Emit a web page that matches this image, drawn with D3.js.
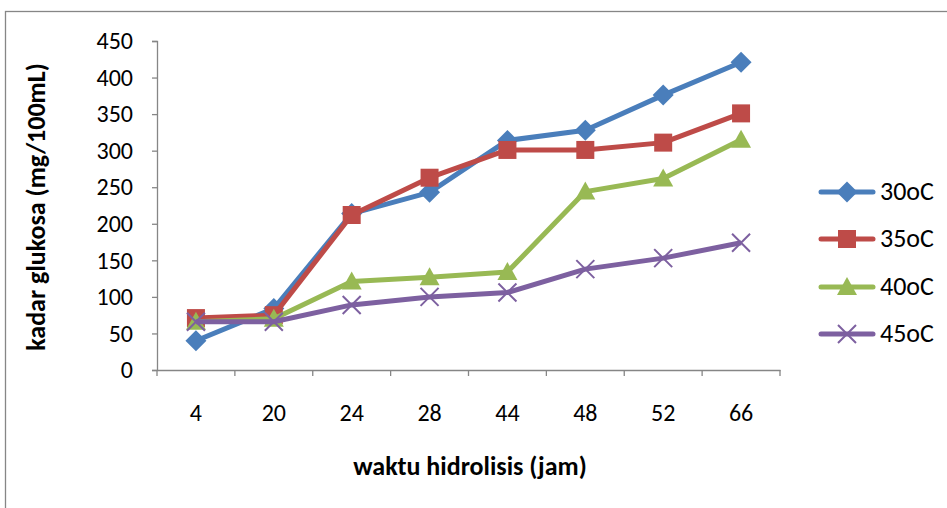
<!DOCTYPE html>
<html><head><meta charset="utf-8">
<script src="https://cdn.jsdelivr.net/npm/d3@7"></script>
<style>body{margin:0;background:#fff}svg{display:block}text{font-family:Carlito,Calibri,"Open Sans","Noto Sans",sans-serif;fill:#000}</style>
</head><body><svg id="c" width="947" height="508"></svg>
<script>
const categories = ["4","20","24","28","44","48","52","66"];
const yTicks = [0,50,100,150,200,250,300,350,400,450];
const seriesNames = ["30oC","35oC","40oC","45oC"];
const s30 = [40,84,214,243,314,328,376,421];
const s35 = [71,75,212,263,301,301,311,351];
const s40 = [66,70,121,127,134,244,262,315];
const s45 = [66,66,89,100,106,138,153,174];
const colors = ["#4A7EBB","#BE4B48","#98B954","#7D60A0"];
const markers = ["diamond","square","triangle","x"];
const values = [s30,s35,s40,s45];

(function(){
const FF = "Carlito,Calibri,'Open Sans',sans-serif";
const svg = d3.select("#c");
svg.append("rect").attr("x",5.5).attr("y",11.5).attr("width",1000).attr("height",600)
  .attr("fill","none").attr("stroke","#868686").attr("stroke-width",1.3);

const pl=157, pr=780, pt=41, pb=370;
const x = d3.scaleBand().domain(categories).range([pl,pr]);
const y = d3.scaleLinear().domain([0,450]).range([pb,pt]);

const ya = svg.append("g").attr("transform",`translate(${pl},0)`)
  .call(d3.axisLeft(y).tickValues(yTicks).tickSize(5).tickPadding(19));
ya.select(".domain").attr("stroke","#868686").attr("stroke-width",1.3);
ya.selectAll(".tick line").attr("stroke","#868686").attr("stroke-width",1.3);
ya.selectAll("text").attr("font-size",24).style("font-family",FF);

const xa = svg.append("g").attr("transform",`translate(0,${pb})`)
  .call(d3.axisBottom(x).tickSize(0).tickPadding(34));
xa.select(".domain").attr("stroke","#868686").attr("stroke-width",1.3);
xa.selectAll("text").attr("font-size",24).style("font-family",FF);
const bounds = categories.map(c=>x(c)).concat([pr]);
svg.append("g").selectAll("line").data(bounds).join("line")
  .attr("x1",d=>d).attr("x2",d=>d).attr("y1",pb).attr("y2",pb+6)
  .attr("stroke","#868686").attr("stroke-width",1.3);

svg.append("text").attr("x",470).attr("y",475).attr("text-anchor","middle")
  .attr("font-size",26).attr("font-weight","bold").text("waktu hidrolisis (jam)");
svg.append("text").attr("transform","translate(45,207) rotate(-90)").attr("text-anchor","middle")
  .attr("font-size",26).attr("font-weight","bold").text("kadar glukosa (mg/100mL)");

function marker(g, type, color){
  if(type==="diamond") g.append("path").attr("d","M0,-10.5L10.5,0L0,10.5L-10.5,0Z").attr("fill",color);
  else if(type==="square") g.append("rect").attr("x",-9).attr("y",-9).attr("width",18).attr("height",18).attr("fill",color);
  else if(type==="triangle") g.append("path").attr("d","M0,-10L10,8L-10,8Z").attr("fill",color);
  else g.append("path").attr("d","M-9,-9L9,9M-9,9L9,-9").attr("stroke",color).attr("stroke-width",2);
}

const line = d3.line().x((d,i)=>x(categories[i])+x.bandwidth()/2).y(d=>y(d));
values.forEach((vals,k)=>{
  const g = svg.append("g");
  g.append("path").datum(vals).attr("d",line).attr("fill","none")
    .attr("stroke",colors[k]).attr("stroke-width",5).attr("stroke-linejoin","round");
  vals.forEach((v,i)=>{
    const m = g.append("g").attr("transform",`translate(${x(categories[i])+x.bandwidth()/2},${y(v)})`);
    marker(m, markers[k], colors[k]);
  });
});

const legY = [192,239,287,334];
seriesNames.forEach((n,k)=>{
  const g = svg.append("g").attr("transform",`translate(847,${legY[k]})`);
  g.append("line").attr("x1",-26).attr("x2",26).attr("stroke",colors[k]).attr("stroke-width",5).attr("stroke-linecap","round");
  marker(g, markers[k], colors[k]);
  g.append("text").attr("x",33).attr("y",8).attr("font-size",26).text(n);
});
})();
</script></body></html>
